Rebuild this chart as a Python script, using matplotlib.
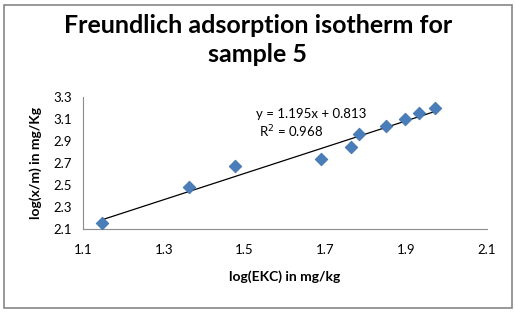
import numpy as np
import matplotlib
matplotlib.use("Agg")
import matplotlib.pyplot as plt
from matplotlib.patches import Rectangle

# data
log_ekc = [1.147, 1.362, 1.476, 1.689, 1.763, 1.783, 1.850, 1.897, 1.932, 1.971]
log_xm = [2.155, 2.482, 2.673, 2.736, 2.845, 2.964, 3.036, 3.100, 3.155, 3.200]
slope, intercept = 1.195, 0.813
x_ticks = [1.1, 1.3, 1.5, 1.7, 1.9, 2.1]
y_ticks = [2.1, 2.3, 2.5, 2.7, 2.9, 3.1, 3.3]

plt.rcParams['font.family'] = ['Lato', 'DejaVu Sans']

W, H = 516, 312
fig = plt.figure(figsize=(W / 100, H / 100), dpi=100)
ax = fig.add_axes([83 / W, 1 - 229 / H, (487 - 83) / W, (229 - 97) / H])

# outer chart border
fig.patches.append(Rectangle((4 / W, 4 / H), 508 / W, 303 / H, transform=fig.transFigure,
                             fill=False, edgecolor='#868686', linewidth=1.2))

ax.scatter(log_ekc, log_xm, marker='D', s=42, color='#4a7ebb', edgecolors='#3c6ea8',
           linewidths=0.5, zorder=3)
xs = np.array([min(log_ekc), max(log_ekc)])
ax.plot(xs, slope * xs + intercept, color='black', linewidth=0.9, zorder=2)

ax.set_xlim(1.1, 2.1)
ax.set_ylim(2.1, 3.3)
ax.set_xticks(x_ticks)
ax.set_yticks(y_ticks)
ax.set_xticklabels([f"{t:.1f}" for t in x_ticks])
ax.set_yticklabels([f"{t:.1f}" for t in y_ticks])
ax.tick_params(length=0, labelsize=9.5, pad=8)
ax.tick_params(axis='x', pad=11)
for side in ['top', 'right']:
    ax.spines[side].set_visible(False)
for side in ['left', 'bottom']:
    ax.spines[side].set_color('#8c8c8c')

ax.set_xlabel('log(EKC) in mg/kg', fontsize=10, fontweight='bold', labelpad=10)
ax.set_ylabel('log(x/m) in mg/Kg', fontsize=10, fontweight='bold', labelpad=8)

# trendline label
ax.text(1.665, 3.142, f"y = {slope}x + {intercept}", fontsize=9.5, ha='center', va='center')
ax.text(1.615, 2.985, r"R$^2$ = 0.968", fontsize=9.5, ha='center', va='center')

fig.text(0.5, 1 - 40 / H, "Freundlich adsorption isotherm for\nsample 5", ha='center', va='center',
         fontsize=18, fontweight='bold', linespacing=1.3)

fig.savefig('out.png', dpi=100)
